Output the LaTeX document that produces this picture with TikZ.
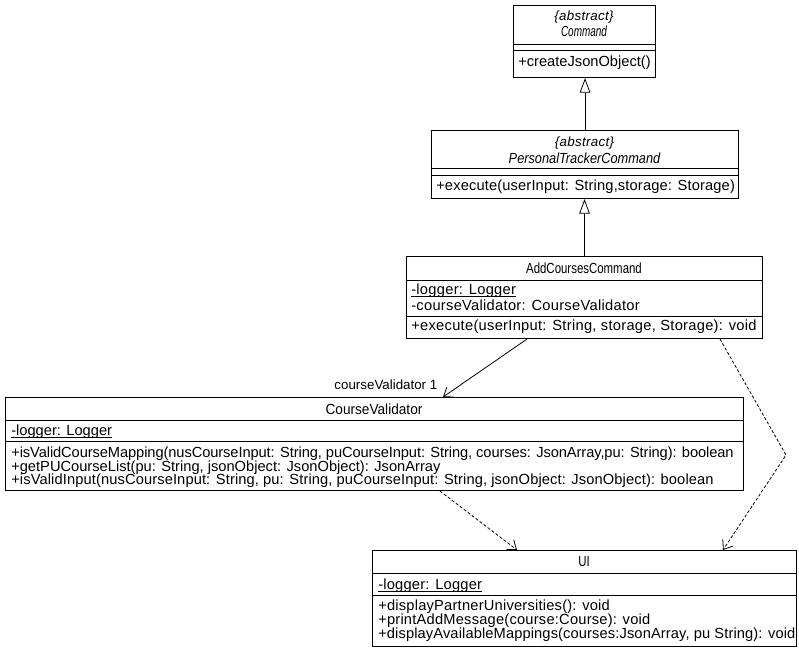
\documentclass[tikz,border=0pt]{standalone}
\usepackage{fontspec}
\setmainfont{Liberation Sans}
\newfontfamily\narrowsans[FakeStretch=0.78]{Liberation Sans}
\newcommand\staticname[1]{\underline{\smash{#1}}\vphantom{#1}}
\usetikzlibrary{arrows.meta}

\begin{document}
\begin{tikzpicture}[x=0.75pt, y=-0.75pt,
	umlbox/.style={draw, line width=0.8pt, anchor=north west, inner sep=0pt},
	sep/.style={line width=0.6pt},
	title/.style={inner sep=0pt, font=\narrowsans\fontsize{11}{13}\selectfont},
	stereo/.style={inner sep=0pt, font=\itshape\fontsize{10}{12}\selectfont\addfontfeatures{LetterSpace=2.5}},
	member/.style={anchor=west, inner sep=0pt, font=\fontsize{11}{13}\selectfont\addfontfeatures{LetterSpace=#1}},
	member/.default=1,
	inherit/.style={line width=0.6pt, -{Triangle[open, length=11pt, width=8pt]}},
	assoc/.style={line width=0.6pt, -{Straight Barb[length=6pt, width=9pt]}},
	depend/.style={line width=0.6pt, dash pattern=on 2.25pt off 1.5pt, -{Straight Barb[length=6pt, width=9pt]}}]
	\useasboundingbox (0,0) rectangle (799,649);
	
	% Command
	\node[umlbox, minimum width=106.5pt, minimum height=54pt] (cmd) at (513,5) {};
	\draw[sep] (cmd.west |- 0,44) -- (cmd.east |- 0,44);
	\draw[sep] (cmd.west |- 0,50) -- (cmd.east |- 0,50);
	\node[stereo] (cmdstereo) at (584,17) {\{abstract\}};
	\node[inner sep=0pt, font=\itshape\fontsize{11}{13}\selectfont] (cmdname) at (584,31) {\scalebox{0.68}[1]{Command}};
	\node[member=0] (cmdop) at (518,63) {+createJsonObject()};
	
	% PersonalTrackerCommand
	\node[umlbox, minimum width=230.25pt, minimum height=51pt] (ptc) at (431,130) {};
	\draw[sep] (ptc.west |- 0,168) -- (ptc.east |- 0,168);
	\draw[sep] (ptc.west |- 0,175) -- (ptc.east |- 0,175);
	\node[stereo] (ptcstereo) at (584.5,143) {\{abstract\}};
	\node[inner sep=0pt, font=\itshape\fontsize{11}{13}\selectfont] (ptcname) at (584.5,158) {\scalebox{0.87}[1]{PersonalTrackerCommand}};
	\node[member] (ptcop) at (436,187) {+execute(userInput: String,storage: Storage)};
	
	% AddCoursesCommand
	\node[umlbox, minimum width=267pt, minimum height=61.5pt] (acc) at (406,256) {};
	\draw[sep] (acc.west |- 0,280) -- (acc.east |- 0,280);
	\draw[sep] (acc.west |- 0,316) -- (acc.east |- 0,316);
	\node[title] (accname) at (584,268) {AddCoursesCommand};
	\node[member=2] (acclogger) at (411,291) {\staticname{-logger: Logger}};
	\node[member=2] (accvalid) at (411,305) {-courseValidator: CourseValidator};
	\node[member=2] (accop) at (411,327) {+execute(userInput: String, storage, Storage): void};
	
	% CourseValidator
	\node[umlbox, minimum width=553.5pt, minimum height=69.75pt] (cv) at (5,397) {};
	\draw[sep] (cv.west |- 0,420) -- (cv.east |- 0,420);
	\draw[sep] (cv.west |- 0,441) -- (cv.east |- 0,441);
	\node[inner sep=0pt, font=\fontsize{11}{13}\selectfont] (cvname) at (374,409) {\scalebox{0.93}[1]{CourseValidator}};
	\node[member=0] (cvlogger) at (11,432) {\staticname{-logger: Logger}};
	\node[member=-0.6] (cvmap) at (11,454) {+isValidCourseMapping(nusCourseInput: String, puCourseInput: String, courses: JsonArray,pu: String): boolean};
	\node[member=0] (cvlist) at (11,468) {+getPUCourseList(pu: String, jsonObject: JsonObject): JsonArray};
	\node[member=0.8] (cvinput) at (11,481) {+isValidInput(nusCourseInput: String, pu: String, puCourseInput: String, jsonObject: JsonObject): boolean};
	
	% UI
	\node[umlbox, minimum width=318pt, minimum height=72pt] (ui) at (372,550) {};
	\draw[sep] (ui.west |- 0,573) -- (ui.east |- 0,573);
	\draw[sep] (ui.west |- 0,595) -- (ui.east |- 0,595);
	\node[title] (uiname) at (584,562) {UI};
	\node[member=1.5] (uilogger) at (378,586) {\staticname{-logger: Logger}};
	\node[member=1.5] (uipartner) at (378,607) {+displayPartnerUniversities(): void};
	\node[member=1.5] (uiprint) at (378,621) {+printAddMessage(course:Course): void};
	\node[member=0.8] (uimap) at (378,635) {+displayAvailableMappings(courses:JsonArray, pu String): void};
	
	% connectors
	\draw[inherit] (ptc.north) -- (ptc.north |- cmd.south);
	\draw[inherit] (acc.north) -- (acc.north |- ptc.south);
	\draw[assoc] (527,0 |- acc.south) -- (443,0 |- cv.north)
		node[pos=1, anchor=south east, inner sep=0pt, xshift=-4pt, yshift=5pt, font=\fontsize{10}{12}\selectfont] (assoclabel) {courseValidator 1};
	\draw[depend] (440,0 |- cv.south) -- (517,0 |- ui.north);
	\coordinate (bend) at (786,455);
	\draw[depend] (720,0 |- acc.south) -- (bend) -- (723,0 |- ui.north);
\end{tikzpicture}
\end{document}
